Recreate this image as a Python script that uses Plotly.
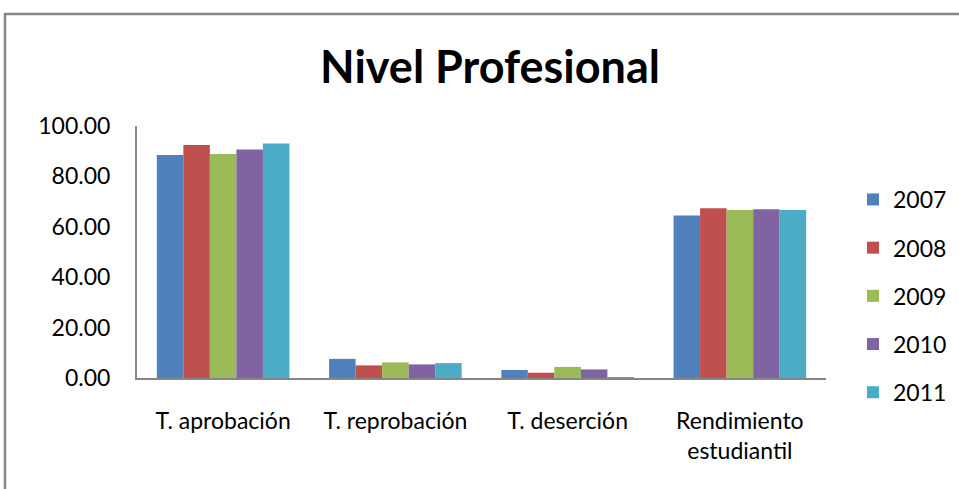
import plotly.graph_objects as go

categories = ["T. aprobación", "T. reprobación", "T. deserción", "Rendimiento<br>estudiantil"]
years = ["2007", "2008", "2009", "2010", "2011"]
v2007 = [88.5, 7.6, 3.2, 64.5]
v2008 = [92.5, 5.0, 2.1, 67.4]
v2009 = [88.9, 6.2, 4.4, 66.7]
v2010 = [90.7, 5.4, 3.4, 67.0]
v2011 = [93.1, 5.9, 0.3, 66.7]
series = [v2007, v2008, v2009, v2010, v2011]
colors = ["#4F81BD", "#C0504D", "#9BBB59", "#8064A2", "#4BACC6"]

W, H = 959, 489
L, R, T, B = 137, 826, 126, 378

fig = go.Figure()
for i, (y, vals) in enumerate(zip(years, series)):
    fig.add_trace(go.Bar(x=categories, y=vals, name=y, marker_color=colors[i],
                         marker_line_width=0, legendgroup=y))

font = "Lato, 'Open Sans', sans-serif"
fig.update_layout(
    width=W, height=H,
    margin=dict(l=L, r=W - R, t=T, b=H - B, autoexpand=False),
    paper_bgcolor="white", plot_bgcolor="white",
    barmode="group", bargap=0.23, bargroupgap=0,
    font=dict(family=font, size=23, color="black"),
    title=dict(text="<b>Nivel Profesional</b>", x=490 / W, xanchor="center",
               y=1 - 67 / H, yanchor="middle", font=dict(size=45, family=font, color="black")),
    showlegend=True,
    legend=dict(x=(853 - L) / (R - L), xanchor="left", y=(B - 178) / (B - T), yanchor="top",
                font=dict(size=23, family=font), tracegroupgap=15.3, itemwidth=30,
                bgcolor="rgba(0,0,0,0)"),
    xaxis=dict(showline=True, linecolor="#868686", linewidth=2, showgrid=False,
               ticks="outside", ticklen=21, tickcolor="rgba(0,0,0,0)",
               tickfont=dict(size=23, family=font)),
    yaxis=dict(range=[0, 100], tickvals=[0, 20, 40, 60, 80, 100], tickformat=".2f",
               showline=True, linecolor="#868686", linewidth=2, showgrid=False, zeroline=False,
               ticks="outside", ticklen=20, tickcolor="rgba(0,0,0,0)",
               tickfont=dict(size=23, family=font)),
)

# outer chart border (extends past right and bottom edges)
fig.add_shape(type="rect", xref="paper", yref="paper",
              x0=(5 - L) / (R - L), x1=(W + 20 - L) / (R - L),
              y0=(B - (H + 20)) / (B - T), y1=(B - 14) / (B - T),
              line=dict(color="#868686", width=2.5), fillcolor="rgba(0,0,0,0)", layer="below")

fig.write_html("out.html", config={"displayModeBar": False},
               post_script="document.body.style.margin='0';")
